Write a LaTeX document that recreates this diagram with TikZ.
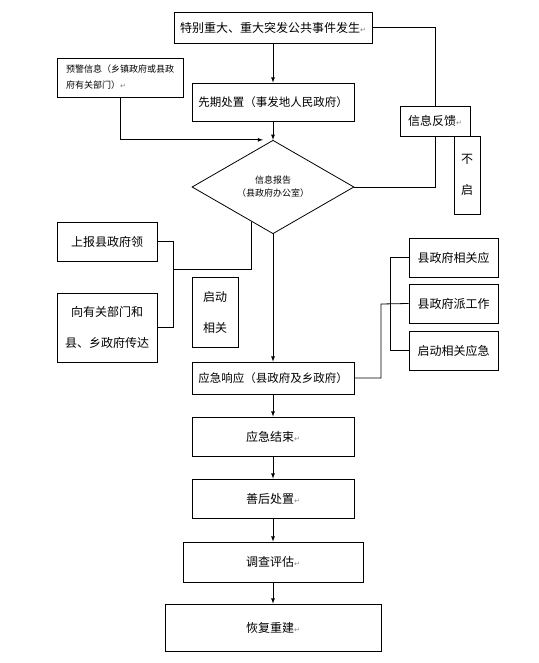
\documentclass[tikz,border=0pt]{standalone}
\usepackage{fontspec}
\setmainfont{Noto Sans CJK SC}
\newfontfamily\symfont{DejaVu Sans}
\usepackage{tikz}
\usetikzlibrary{shapes.geometric}
\newcommand{\pmark}{{\symfont\fontsize{7}{7}\selectfont\textcolor{gray}{↵}}}

\begin{document}
\begin{tikzpicture}[x=1pt,y=-1pt,>=latex,line width=0.8pt,
  box/.style={draw,inner sep=0pt,align=center,font=\fontsize{12}{14}\selectfont},
  smallbox/.style={box,align=left,font=\fontsize{9}{16}\selectfont},
  tallbox/.style={box,font=\fontsize{12}{31}\selectfont}]
\useasboundingbox (0,0) rectangle (538,663);

% Event and first handling
\node[box,minimum width=198pt,minimum height=31pt] (event) at (273,27.5) {特别重大、重大突发公共事件发生\pmark};
\node[box,minimum width=162pt,minimum height=38pt,font=\fontsize{11.5}{14}\selectfont] (early) at (273,102) {先期处置（事发地人民政府）};
\node[smallbox,minimum width=126pt,minimum height=39pt] (warn) at (120,77.5) {预警信息（乡镇政府或县政\\府有关部门）\pmark};

% Report
\node[draw,diamond,inner sep=0pt,minimum width=162pt,minimum height=70pt,align=center,font=\fontsize{9}{13}\selectfont] (report) at (273,187) {信息报告\\（县政府办公室）};
\node[box,minimum width=70pt,minimum height=30pt] (feedback) at (435,121) {信息反馈\pmark};
\node[tallbox,minimum width=26pt,minimum height=78pt] (nostart) at (467,175) {不\\启};

% Left branch
\node[box,minimum width=100pt,minimum height=39pt] (lead) at (107,241.5) {上报县政府领};
\node[tallbox,minimum width=100pt,minimum height=69pt] (inform) at (107,327.5) {向有关部门和\\县、乡政府传达};
\node[tallbox,minimum width=46pt,minimum height=70pt] (launch) at (215,312) {启动\\相关};
\coordinate (jleft) at (173,269);

% Response
\node[box,minimum width=162pt,minimum height=32pt,font=\fontsize{11.5}{14}\selectfont] (resp) at (273,378) {应急响应（县政府及乡政府）};
\node[box,minimum width=89pt,minimum height=39pt] (relate) at (453.5,257.5) {县政府相关应};
\node[box,minimum width=89pt,minimum height=39pt] (dispatch) at (453.5,303.5) {县政府派工作};
\node[box,minimum width=89pt,minimum height=39pt] (startup) at (453.5,350.5) {启动相关应急};
\coordinate (jright) at (381,304);

% Ending steps
\node[box,minimum width=162pt,minimum height=39pt] (finish) at (273,436.5) {应急结束\pmark};
\node[box,minimum width=162pt,minimum height=39pt] (aftercare) at (273,498.5) {善后处置\pmark};
\node[box,minimum width=180pt,minimum height=40pt] (survey) at (273,562) {调查评估\pmark};
\node[box,minimum width=216pt,minimum height=47pt] (rebuild) at (273,627.5) {恢复重建\pmark};

% Connectors
\draw[->] (event) -- (early);
\draw[->] (early) -- (report);
\draw[->] (warn.south) |- ([xshift=-10pt]report.north);
\draw (event.east) -| (feedback.north);
\draw (feedback.south) |- (report.east);
\draw (report.238.5) |- (jleft);
\draw (lead.east) -| (jleft);
\draw (inform.east) -| (jleft);
\draw[->] (report) -- (resp);
\draw (resp.east) -| (jright) -- (dispatch.west);
\draw (relate.west) -- ++(-18,0) |- (startup.west);
\draw[->] (resp) -- (finish);
\draw[->] (finish) -- (aftercare);
\draw[->] (aftercare) -- (survey);
\draw[->] (survey) -- (rebuild);
\end{tikzpicture}
\end{document}
